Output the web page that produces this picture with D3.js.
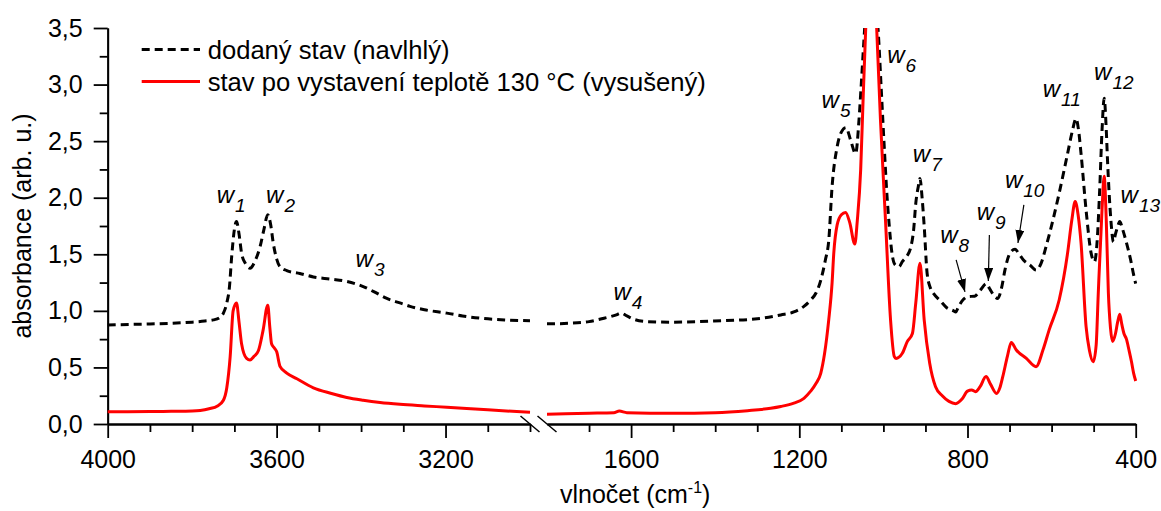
<!DOCTYPE html>
<html>
<head>
<meta charset="utf-8">
<script src="https://cdn.jsdelivr.net/npm/d3@7"></script>
<style>
  body { margin: 0; background: #fff; }
  text { font-family: "Liberation Sans", Arial, sans-serif; fill: #000; }
</style>
</head>
<body>
<svg width="1161" height="511"></svg>
<script>
// ---- data: [wavenumber (cm-1), absorbance] ----
// dodaný stav (navlhlý), high wavenumber part
const wetHigh = [
	[4000,0.875],[3950,0.88],[3900,0.884],[3850,0.89],[3800,0.9],[3770,0.91],[3750,0.92],[3735,0.94],
	[3726,0.98],[3718,1.07],[3712,1.2],[3706,1.5],[3700,1.72],[3695,1.79],[3689,1.68],[3683,1.51],
	[3674,1.42],[3663,1.377],[3650,1.45],[3639,1.57],[3630,1.72],[3621,1.85],[3614,1.76],[3608,1.6],
	[3600,1.46],[3592,1.39],[3576,1.356],[3545,1.33],[3513,1.3],[3470,1.28],[3434,1.26],[3395,1.215],
	[3370,1.17],[3339,1.11],[3300,1.06],[3284,1.04],[3250,1.01],[3197,0.98],[3160,0.955],[3118,0.935],
	[3060,0.92],[3000,0.912]
];
// dodaný stav (navlhlý), fingerprint part
const wetLow = [
	[1800,0.885],[1750,0.89],[1700,0.905],[1670,0.93],[1648,0.95],[1635,0.965],[1624,0.98],[1610,0.955],
	[1593,0.925],[1561,0.905],[1500,0.9],[1403,0.91],[1300,0.93],[1244,0.964],[1213,0.99],[1189,1.04],
	[1173,1.096],[1160,1.16],[1149,1.27],[1138,1.45],[1130,1.62],[1122,2.1],[1110,2.45],[1100,2.58],
	[1089,2.62],[1078,2.51],[1066,2.39],[1058,2.69],[1053,2.98],[1047,3.35],[1040,3.75],[1030,4.0],
	[1020,3.8],[1012,3.45],[1005,2.95],[998,2.45],[992,2.05],[986,1.75],[980,1.52],[972,1.406],
	[963,1.39],[955,1.435],[945,1.48],[935,1.56],[928,1.72],[923,1.95],[917,2.1],[913,2.17],
	[908,2.0],[903,1.75],[896,1.33],[888,1.2],[880,1.15],[865,1.09],[850,1.03],[833,1.0],
	[828,0.99],[821,1.04],[810,1.1],[799,1.126],[783,1.13],[770,1.18],[755,1.24],[748,1.2],
	[741,1.156],[728,1.11],[718,1.22],[711,1.36],[699,1.51],[687,1.545],[677,1.5],[667,1.45],
	[650,1.4],[637,1.36],[625,1.42],[613,1.57],[597,1.8],[582,2.04],[562,2.39],[550,2.6],
	[542,2.7],[536,2.6],[530,2.39],[518,1.89],[506,1.51],[498,1.435],[492,1.6],[486,2.04],
	[480,2.6],[475,2.88],[470,2.6],[467,2.33],[459,1.8],[453,1.61],[448,1.68],[443,1.745],
	[438,1.79],[431,1.72],[424,1.63],[412,1.45],[405,1.32],[400,1.24]
];
// stav po vystavení teplotě 130 °C (vysušený), high wavenumber part
const dryHigh = [
	[4000,0.109],[3900,0.11],[3850,0.112],[3800,0.115],[3781,0.12],[3760,0.135],[3740,0.16],[3726,0.21],
	[3718,0.32],[3710,0.595],[3703,1.0],[3695,1.07],[3689,0.9],[3683,0.71],[3671,0.58],[3663,0.566],
	[3653,0.6],[3643,0.65],[3632,0.83],[3621,1.05],[3616,0.85],[3612,0.71],[3605,0.67],[3600,0.64],
	[3592,0.51],[3576,0.45],[3552,0.4],[3513,0.32],[3470,0.27],[3434,0.235],[3395,0.21],[3355,0.19],
	[3308,0.174],[3250,0.16],[3197,0.148],[3100,0.125],[3000,0.103]
];
// stav po vystavení teplotě 130 °C (vysušený), fingerprint part
const dryLow = [
	[1800,0.087],[1700,0.095],[1641,0.1],[1628,0.114],[1610,0.1],[1500,0.095],[1400,0.1],[1323,0.118],
	[1268,0.139],[1244,0.155],[1213,0.185],[1189,0.227],[1173,0.29],[1160,0.36],[1149,0.448],[1140,0.62],
	[1130,0.92],[1122,1.25],[1118,1.51],[1110,1.76],[1100,1.85],[1090,1.87],[1080,1.78],[1068,1.59],
	[1062,1.8],[1054,2.25],[1048,2.9],[1042,3.5],[1035,4.2],[1028,4.4],[1022,4.1],[1016,3.5],
	[1007,2.69],[995,1.8],[983,0.92],[974,0.595],[970,0.58],[955,0.625],[943,0.73],[931,0.8],
	[923,1.07],[913,1.42],[903,0.92],[890,0.54],[876,0.33],[860,0.25],[844,0.2],[828,0.18],
	[813,0.22],[800,0.29],[790,0.3],[781,0.286],[770,0.33],[756,0.42],[745,0.35],[731,0.27],
	[723,0.32],[716,0.42],[705,0.6],[696,0.72],[684,0.654],[660,0.58],[637,0.507],[620,0.66],
	[606,0.83],[582,1.096],[562,1.51],[552,1.8],[544,1.966],[537,1.85],[530,1.6],[518,0.86],
	[510,0.65],[501,0.55],[494,0.7],[489,1.156],[480,1.9],[475,2.19],[470,1.8],[465,1.16],
	[460,0.85],[455,0.73],[448,0.8],[443,0.9],[438,0.97],[433,0.88],[428,0.8],[422,0.75],
	[416,0.654],[410,0.55],[405,0.45],[400,0.38]
];

// axis ticks
const yMajor = [0, 0.5, 1, 1.5, 2, 2.5, 3, 3.5];
const yMinor = [0.25, 0.75, 1.25, 1.75, 2.25, 2.75, 3.25];
const xHighMajor = [4000, 3600, 3200];
const xHighMinor = [3900, 3800, 3700, 3500, 3400, 3300, 3100, 3000];
const xLowMajor = [1600, 1200, 800, 400];
const xLowMinor = [1700, 1500, 1400, 1300, 1100, 1000, 900, 700, 600, 500];

// peak labels: [name, subscript, wavenumber, absorbance]
const peakLabels = [
	["w", "1", 3742, 1.953], ["w", "2", 3625, 1.953], ["w", "3", 3413, 1.39],
	["w", "4", 1642, 1.096], ["w", "5", 1147, 2.79], ["w", "6", 991, 3.188],
	["w", "7", 930, 2.318], ["w", "8", 865, 1.597], ["w", "9", 778, 1.803],
	["w", "10", 711, 2.083], ["w", "11", 621, 2.893], ["w", "12", 499, 3.04],
	["w", "13", 436, 1.951]
];
// arrows: [from wn, from abs, to wn, to abs]
const arrows = [
	[827, 1.45, 806, 1.167],
	[748, 1.67, 750.5, 1.264],
	[666, 1.936, 680, 1.6]
];

const legendNames = ["dodaný stav (navlhlý)", "stav po vystavení teplotě 130 °C (vysušený)"];

// ---- layout ----
const plotTop = 28, plotBottom = 424;
const svg = d3.select("svg");

const y = d3.scaleLinear().domain([0, 3.5]).range([plotBottom, plotTop]);
const xHigh = d3.scaleLinear().domain([4000, 3000]).range([107.7, 530]);
const xLow = d3.scaleLinear().domain([1800, 400]).range([547, 1135.7]);

// wavenumber -> pixel across the broken axis
const xAny = (wn) => (wn >= 2000 ? xHigh(wn) : xLow(wn));

const comma = (d) => d3.format(".1f")(d).replace(".", ",");

const defs = svg.append("defs");
// clip above 3.5
defs.append("clipPath").attr("id", "plotclip")
	.append("rect").attr("x", 100).attr("y", plotTop).attr("width", 1050).attr("height", plotBottom - plotTop + 10);

defs.append("marker")
	.attr("id", "arrowhead")
	.attr("markerUnits", "userSpaceOnUse")
	.attr("markerWidth", 14).attr("markerHeight", 10)
	.attr("refX", 13).attr("refY", 4.5)
	.attr("orient", "auto")
	.append("path").attr("d", "M0,0 L13,4.5 L0,9 Z").attr("fill", "#000");

// ---- y axis ----
const yAxisG = svg.append("g").attr("transform", `translate(${xHigh(4000)},0)`);
yAxisG.append("g").call(d3.axisLeft(y).tickValues(yMinor).tickSize(8).tickFormat("").tickSizeOuter(0));
yAxisG.append("g").call(d3.axisLeft(y).tickValues(yMajor).tickSize(14).tickPadding(11).tickFormat(comma).tickSizeOuter(0));

// ---- x axis (two pieces) ----
function bottomAxis(scale, major, minor) {
	const g = svg.append("g").attr("transform", `translate(0,${plotBottom})`);
	g.append("g").call(d3.axisBottom(scale).tickValues(minor).tickSize(8).tickFormat("").tickSizeOuter(0));
	g.append("g").call(d3.axisBottom(scale).tickValues(major).tickSize(14).tickPadding(12).tickFormat(d3.format("d")).tickSizeOuter(0));
	return g;
}
bottomAxis(xHigh, xHighMajor, xHighMinor);
bottomAxis(xLow, xLowMajor, xLowMinor);

svg.selectAll(".domain, .tick line").attr("stroke", "#000").attr("stroke-width", 1.8);
svg.selectAll(".tick text").attr("font-size", 25).attr("fill", "#000")
	.attr("font-family", "'Liberation Sans', Arial, sans-serif");

// break marks
[xHigh(3000), xLow(1800)].forEach((bx) => {
	svg.append("line")
		.attr("x1", bx - 9.5).attr("y1", plotBottom - 8)
		.attr("x2", bx + 9.5).attr("y2", plotBottom + 8)
		.attr("stroke", "#000").attr("stroke-width", 1.5);
});

// axis titles
svg.append("text")
	.attr("transform", `translate(31,${(plotTop + plotBottom) / 2}) rotate(-90)`)
	.attr("text-anchor", "middle")
	.attr("font-size", 25)
	.text("absorbance (arb. u.)");

const xt = svg.append("text").attr("x", 560).attr("y", 503).attr("font-size", 25);
xt.append("tspan").text("vlnočet (cm");
xt.append("tspan").attr("font-size", 16).attr("dy", -10).text("-1");
xt.append("tspan").attr("dy", 10).text(")");

// ---- curves ----
const plot = svg.append("g").attr("clip-path", "url(#plotclip)");

function curve(scale) {
	return d3.line()
		.x((d) => scale(d[0]))
		.y((d) => y(d[1]))
		.curve(d3.curveMonotoneX);
}

const series = [
	{ data: wetHigh, scale: xHigh, color: "#000", dash: "8,5" },
	{ data: wetLow, scale: xLow, color: "#000", dash: "8,5" },
	{ data: dryHigh, scale: xHigh, color: "#ff0000", dash: null },
	{ data: dryLow, scale: xLow, color: "#ff0000", dash: null }
];

series.forEach((s) => {
	plot.append("path")
		.datum(s.data)
		.attr("fill", "none")
		.attr("stroke", s.color)
		.attr("stroke-width", 3)
		.attr("stroke-dasharray", s.dash)
		.attr("stroke-linejoin", "round")
		.attr("d", curve(s.scale));
});

// ---- peak labels ----
peakLabels.forEach((p) => {
	const t = svg.append("text")
		.attr("x", xAny(p[2]))
		.attr("y", y(p[3]))
		.attr("font-size", 24)
		.attr("font-style", "italic");
	t.append("tspan").text(p[0]);
	t.append("tspan").attr("dx", 1).attr("dy", 9).attr("font-size", 19).text(p[1]);
});

arrows.forEach((a) => {
	svg.append("line")
		.attr("x1", xAny(a[0])).attr("y1", y(a[1]))
		.attr("x2", xAny(a[2])).attr("y2", y(a[3]))
		.attr("stroke", "#000").attr("stroke-width", 1.2)
		.attr("marker-end", "url(#arrowhead)");
});

// ---- legend ----
const legend = svg.append("g");
const legendStyles = [
	{ color: "#000", dash: "8,5" },
	{ color: "#ff0000", dash: null }
];
legendNames.forEach((name, i) => {
	const ly = 49.5 + i * 32;
	legend.append("line")
		.attr("x1", 141.7).attr("x2", 200)
		.attr("y1", ly).attr("y2", ly)
		.attr("stroke", legendStyles[i].color)
		.attr("stroke-width", 3)
		.attr("stroke-dasharray", legendStyles[i].dash);
	legend.append("text")
		.attr("x", 207.7).attr("y", ly + 9)
		.attr("font-size", 25.6)
		.text(name);
});
</script>
</body>
</html>
